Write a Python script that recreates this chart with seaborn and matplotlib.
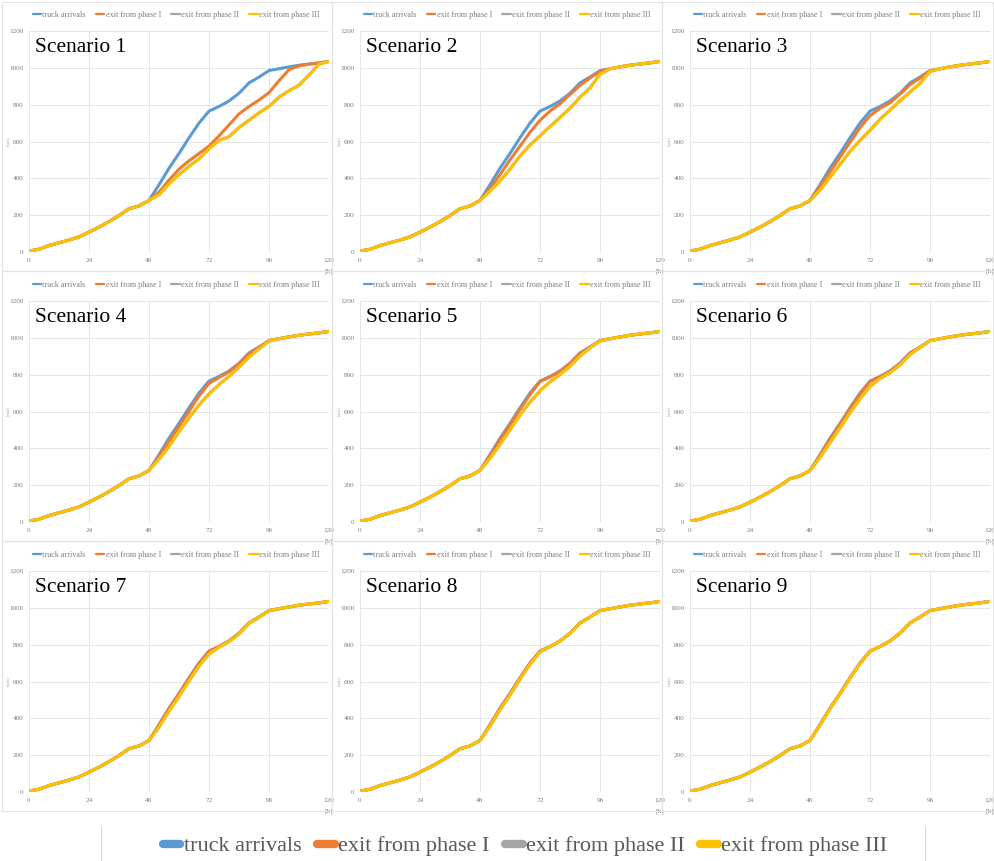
import numpy as np
import pandas as pd
import matplotlib
matplotlib.use("Agg")
import matplotlib.pyplot as plt
import seaborn as sns
from matplotlib.lines import Line2D
from matplotlib.patches import Rectangle


# Hours and cumulative truck counts
hours = [0, 4, 8, 12, 16, 20, 24, 28, 32, 36, 40, 44, 48, 52, 56, 60,
         64, 68, 72, 76, 80, 84, 88, 92, 96, 100, 104, 108, 112, 116, 120]

arrivals = [5, 15, 35, 50, 65, 82, 108, 135, 165, 198, 235, 250, 280, 365, 455, 535,
            620, 700, 765, 790, 820, 862, 918, 950, 985, 995, 1005, 1014, 1021, 1027, 1035]

# Up to 48 h all curves sit on top of each other; values below are from 52 h to 120 h
late_tail = [995, 1005, 1014, 1021, 1027, 1035]

phase1_late = [
    [325, 390, 450, 495, 535, 575, 630, 690, 750, 790, 825, 865, 930, 990, 1010, 1020, 1026, 1035],
    [345, 420, 500, 575, 650, 715, 765, 805, 855, 905, 945, 980] + late_tail,
    [355, 435, 515, 595, 675, 740, 780, 810, 858, 908, 945, 983] + late_tail,
    [355, 440, 520, 600, 685, 752, 785, 815, 858, 912, 948, 985] + late_tail,
    [360, 448, 528, 612, 692, 762, 788, 818, 860, 916, 950, 985] + late_tail,
    [362, 450, 530, 615, 695, 763, 789, 819, 861, 917, 950, 985] + late_tail,
    [363, 452, 532, 617, 697, 764, 790, 820, 862, 918, 950, 985] + late_tail,
    [364, 454, 534, 619, 699, 765, 790, 820, 862, 918, 950, 985] + late_tail,
    [365, 455, 535, 620, 700, 765, 790, 820, 862, 918, 950, 985] + late_tail,
]

phase2_late = [
    [311, 371, 421, 466, 506, 561, 606, 626, 676, 716, 756, 791, 841, 876, 906, 961, 1020, 1035],
    [331, 386, 451, 521, 581, 631, 681, 731, 781, 841, 891, 966] + late_tail,
    [336, 406, 476, 546, 606, 661, 721, 771, 821, 869, 916, 980] + late_tail,
    [341, 411, 491, 566, 636, 696, 746, 791, 841, 896, 941, 982] + late_tail,
    [346, 421, 501, 581, 651, 713, 761, 801, 846, 901, 946, 983] + late_tail,
    [351, 431, 511, 593, 669, 736, 779, 811, 853, 909, 948, 984] + late_tail,
    [353, 439, 519, 604, 684, 749, 787, 817, 859, 915, 949, 985] + late_tail,
    [358, 447, 527, 613, 693, 761, 789, 819, 861, 917, 950, 985] + late_tail,
    [363, 453, 533, 618, 698, 764, 790, 820, 862, 918, 950, 985] + late_tail,
]

phase3_late = [
    [310, 370, 420, 465, 505, 560, 605, 625, 675, 715, 755, 790, 840, 875, 905, 960, 1020, 1035],
    [330, 385, 450, 520, 580, 630, 680, 730, 780, 840, 890, 965] + late_tail,
    [335, 405, 475, 545, 605, 660, 720, 770, 820, 868, 915, 980] + late_tail,
    [340, 410, 490, 565, 635, 695, 745, 790, 840, 895, 940, 982] + late_tail,
    [345, 420, 500, 580, 650, 712, 760, 800, 845, 900, 945, 983] + late_tail,
    [350, 430, 510, 592, 668, 735, 778, 810, 852, 908, 948, 984] + late_tail,
    [352, 438, 518, 603, 683, 748, 786, 816, 858, 915, 949, 985] + late_tail,
    [357, 446, 526, 612, 692, 760, 789, 819, 861, 917, 950, 985] + late_tail,
    [362, 452, 532, 617, 697, 764, 790, 820, 862, 918, 950, 985] + late_tail,
]

series_names = ["truck arrivals", "exit from phase I", "exit from phase II", "exit from phase III"]
colors = ["#5B9BD5", "#ED7D31", "#A5A5A5", "#FFC000"]
x_ticks = [0, 24, 48, 72, 96, 120]
y_ticks = [0, 200, 400, 600, 800, 1000, 1200]

sns.set_theme(style="white")
plt.rcParams["font.family"] = ["Liberation Serif", "DejaVu Serif"]

W, H = 995, 861
fig = plt.figure(figsize=(W / 100, H / 100), dpi=100)


def px_rect(left, top, width, height):
    return [left / W, (H - top - height) / H, width / W, height / H]


early = arrivals[:13]
col_left = [29, 360, 690]
row_top = [31, 301, 571]
box_x = [2, 332, 662, 993]
box_y = [2, 271, 541, 811]

for i in range(9):
    r, c = divmod(i, 3)

    # faint panel frame
    fig.add_artist(Rectangle((box_x[c] / W, 1 - box_y[r + 1] / H),
                             (box_x[c + 1] - box_x[c]) / W, (box_y[r + 1] - box_y[r]) / H,
                             transform=fig.transFigure, fill=False,
                             edgecolor="#E3E3E3", linewidth=0.8))

    ax = fig.add_axes(px_rect(col_left[c], row_top[r], 300, 221))
    curves = [arrivals, early + phase1_late[i], early + phase2_late[i], early + phase3_late[i]]
    df = pd.DataFrame({
        "hour": hours * 4,
        "trucks": sum(curves, []),
        "series": np.repeat(series_names, len(hours)),
    })
    sns.lineplot(data=df, x="hour", y="trucks", hue="series", hue_order=series_names,
                 palette=colors, linewidth=2.2, ax=ax, sort=False)

    ax.set_xlim(0, 120)
    ax.set_ylim(0, 1200)
    ax.set_xticks(x_ticks)
    ax.set_yticks(y_ticks)
    ax.grid(True, color="#E6E6E6", linewidth=0.7)
    for s in ax.spines.values():
        s.set_visible(False)
    ax.tick_params(length=0, labelsize=5.2, labelcolor="#7F7F7F", pad=4)
    ax.set_xlabel("")
    ax.set_ylabel("")
    ax.text(120, -0.088, "[h]", transform=ax.get_xaxis_transform(),
            ha="center", va="center", fontsize=5.2, color="#7F7F7F")
    ax.text(-0.07, 0.5, "[trucks]", transform=ax.transAxes, rotation=90,
            ha="center", va="center", fontsize=2.2, color="#9F9F9F")
    ax.text(0.02, 0.925, f"Scenario {i + 1}", transform=ax.transAxes,
            ha="left", va="center", fontsize=15.5, color="black")

    leg = ax.legend(loc="center", bbox_to_anchor=(0.49, 1 + 16 / 221), ncol=4,
                    fontsize=5.9, frameon=False, handlelength=1.0, handletextpad=0.15,
                    columnspacing=1.3, borderaxespad=0)
    for t in leg.get_texts():
        t.set_color("#7F7F7F")
    for h in leg.get_lines():
        h.set_linewidth(1.6)

# shared legend at the bottom
handles = [Line2D([0], [0], color=col, linewidth=6, solid_capstyle="round") for col in colors]
big = fig.legend(handles, series_names, loc="center", bbox_to_anchor=(525 / W, 1 - 846 / H),
                 ncol=4, fontsize=16, frameon=False, handlelength=0.8, handletextpad=0.15,
                 columnspacing=0.7)
for t in big.get_texts():
    t.set_color("#595959")

for xpos in [101, 925]:
    fig.add_artist(Line2D([xpos / W, xpos / W], [0, 1 - 825 / H], transform=fig.transFigure,
                          color="#D9D9D9", linewidth=0.8))

fig.savefig("out.png", dpi=100)
